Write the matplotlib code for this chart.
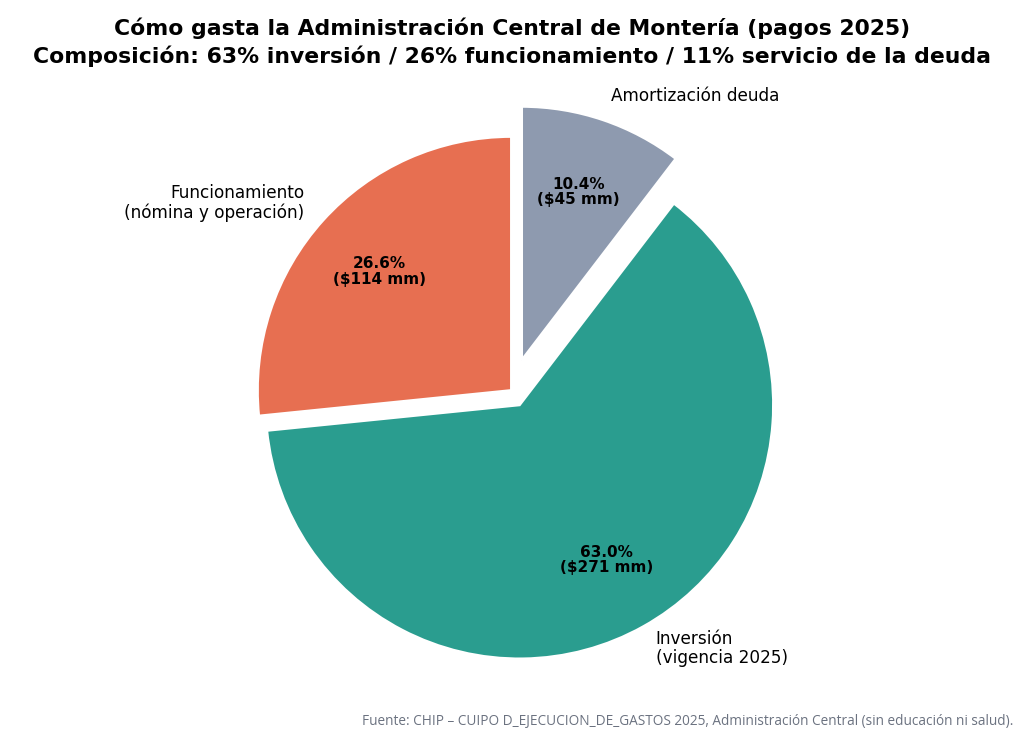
#!/usr/bin/env python
# -*- coding: utf-8 -*-

""" Composición del gasto de la Administración Central de Montería """

import matplotlib
matplotlib.use("Agg")
import matplotlib.pyplot as plt


LABELS = ["Amortización deuda", "Inversión\n(vigencia 2025)",
          "Funcionamiento\n(nómina y operación)"]
VALUES_MM = [44.7, 270.9, 114.4]
COLORS = ["#8E9AAF", "#2A9D8F", "#E76F51"]
EXPLODE = [0.125, 0.065, 0.0]

TITLE = ("Cómo gasta la Administración Central de Montería (pagos 2025)\n"
         "Composición: 63% inversión / 26% funcionamiento / 11% servicio de la deuda")
SOURCE = ("Fuente: CHIP – CUIPO D_EJECUCION_DE_GASTOS 2025, "
          "Administración Central (sin educación ni salud).")


def main() -> None:
    """ Main function """
    plt.rcParams["font.family"] = ["DejaVu Sans"]
    fig = plt.figure(figsize=(10.24, 7.31), dpi=100)
    ax = fig.add_axes([0.1894, 0.0315, 0.6201, 0.8687])

    total = sum(VALUES_MM)

    def fmt(pct: float) -> str:
        return f"{pct:.1f}%\n(${pct * total / 100:.0f} mm)"

    _, texts, autotexts = ax.pie(
        VALUES_MM, labels=LABELS, colors=COLORS, explode=EXPLODE,
        startangle=90, counterclock=False, autopct=fmt,
        pctdistance=0.7, labeldistance=1.1,
        wedgeprops={"edgecolor": "white", "linewidth": 2},
        textprops={"fontsize": 12.2}
    )
    for t in texts:
        t.set_linespacing(1.05)
    for t in autotexts:
        t.set_fontsize(11)
        t.set_fontweight("bold")
        t.set_linespacing(1.05)
    ax.set_aspect("equal")

    fig.suptitle(TITLE, fontsize=15.75, fontweight="bold", y=0.976,
                 linespacing=1.35)
    fig.text(0.99, 0.003, SOURCE, ha="right", va="bottom", fontsize=9.85,
             color="#6B7280", family=["Open Sans", "DejaVu Sans"])

    fig.savefig("out.png", dpi=100)


if __name__ == "__main__":
    main()
